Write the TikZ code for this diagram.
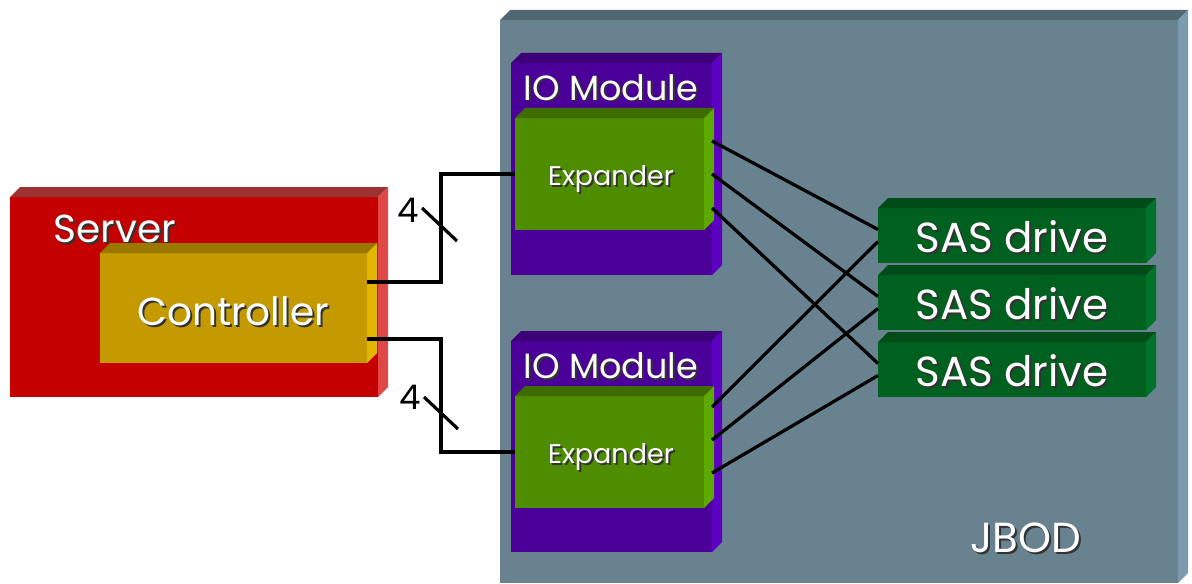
\documentclass[tikz,border=0pt]{standalone}
\usepackage{fontspec}
\setmainfont{Poppins}
\usetikzlibrary{calc}

\definecolor{srvfront}{HTML}{C40000}
\definecolor{srvtop}{HTML}{9E3232}
\definecolor{srvside}{HTML}{E04848}
\definecolor{ctlfront}{HTML}{C49A00}
\definecolor{ctltop}{HTML}{9A7800}
\definecolor{ctlside}{HTML}{E2B600}
\definecolor{jbfront}{HTML}{68828F}
\definecolor{jbtop}{HTML}{516773}
\definecolor{jbside}{HTML}{7C9BAE}
\definecolor{iofront}{HTML}{4B009A}
\definecolor{iotop}{HTML}{3D0078}
\definecolor{ioside}{HTML}{5C00C2}
\definecolor{exfront}{HTML}{4E8C00}
\definecolor{extop}{HTML}{3E6C00}
\definecolor{exside}{HTML}{5CAA00}
\definecolor{drfront}{HTML}{006020}
\definecolor{drtop}{HTML}{004C18}
\definecolor{drside}{HTML}{00722A}

% white text with a dark drop shadow
\newcommand{\shadowed}[1]{\makebox[0pt][l]{\hspace{1pt}\raisebox{-1pt}{\textcolor{black!80}{#1}}}#1}

% top and side faces of a block
\newcommand{\blockfaces}[3]{%
 \fill[#2] (#1.north west) -- ++(10,-10) -- ($(#1.north east)+(10,-10)$) -- (#1.north east) -- cycle;
 \fill[#3] (#1.north east) -- ++(10,-10) -- ($(#1.south east)+(10,-10)$) -- (#1.south east) -- cycle;}

\begin{document}
\begin{tikzpicture}[x=0.5pt,y=-0.5pt]
 \tikzset{block/.style={anchor=north west,inner sep=0,outer sep=0,draw=none},
  lbl/.style={anchor=base,text=white,inner sep=0},
  wire/.style={line width=1.6pt,black}}
\useasboundingbox (0,0) rectangle (1192,583);
% JBOD enclosure
\node[block,fill=jbfront,minimum width=339pt,minimum height=281.5pt] (jbod) at (500,20) {};
\blockfaces{jbod}{jbtop}{jbside}
\node[lbl,font=\fontsize{21}{24}\selectfont] (jbodtxt) at (1026,552) {\shadowed{JBOD}};
% IO modules and expanders
\node[block,fill=iofront,minimum width=100.5pt,minimum height=106pt] (iom1) at (511,63) {};
\blockfaces{iom1}{iotop}{ioside}
\node[block,fill=iofront,minimum width=100.5pt,minimum height=105.5pt] (iom2) at (511,341) {};
\blockfaces{iom2}{iotop}{ioside}
\node[lbl,font=\fontsize{17.5}{20}\selectfont] (iom1txt) at (611,100) {\shadowed{IO Module}};
\node[lbl,font=\fontsize{17.5}{20}\selectfont] (iom2txt) at (611,378) {\shadowed{IO Module}};
\node[block,fill=exfront,minimum width=94.5pt,minimum height=56pt] (exp1) at (515,118) {};
\blockfaces{exp1}{extop}{exside}
\node[block,fill=exfront,minimum width=94.5pt,minimum height=56pt] (exp2) at (515,396) {};
\blockfaces{exp2}{extop}{exside}
\node[lbl,font=\fontsize{13.5}{16}\selectfont] (exp1txt) at (611,185) {\shadowed{Expander}};
\node[lbl,font=\fontsize{13.5}{16}\selectfont] (exp2txt) at (611,463) {\shadowed{Expander}};
% drives
\foreach \i/\y in {1/208,2/275,3/342}{
 \node[block,fill=drfront,minimum width=134pt,minimum height=27.5pt] (drv\i) at (878,\y) {};
 \blockfaces{drv\i}{drtop}{drside}
 \node[lbl,font=\fontsize{21}{24}\selectfont] (drv\i txt) at ($(drv\i.south)+(0,-11)$) {\shadowed{SAS drive}};
}
% server and controller
\node[block,fill=srvfront,minimum width=184pt,minimum height=100pt] (srv) at (10,197) {};
\blockfaces{srv}{srvtop}{srvside}
\node[lbl,font=\fontsize{19.5}{22}\selectfont] (srvtxt) at (115,242) {\shadowed{Server}};
\node[block,fill=ctlfront,minimum width=133.5pt,minimum height=55pt] (ctrl) at (100,253) {};
\blockfaces{ctrl}{ctltop}{ctlside}
\node[lbl,font=\fontsize{19.5}{22}\selectfont] (ctrltxt) at (233,325) {\shadowed{Controller}};
% controller to expanders
\coordinate (cup) at ($(ctrl.east)+(0,-26)$);
\coordinate (clo) at ($(ctrl.east)+(0,31)$);
\draw[wire] (cup) -- ++(74,0) |- (exp1.west);
\draw[wire] (clo) -- ++(74,0) |- (exp2.west);
\draw[wire] (422,208) -- (457,241);
\draw[wire] (424,397) -- (458,429);
\node[anchor=base,inner sep=0,font=\fontsize{17}{20}\selectfont] (lanes1) at (408,222) {4};
\node[anchor=base,inner sep=0,font=\fontsize{17}{20}\selectfont] (lanes2) at (410,409) {4};
% expanders to drives
\foreach \i/\dy in {1/23,2/56,3/90}
 \draw[wire] ($(exp1.north east)+(8,\dy)$) -- ($(drv\i.west)+(0,-6)$);
\foreach \i/\dy in {1/11,2/44,3/77}
 \draw[wire] ($(exp2.north east)+(8,\dy)$) -- ($(drv\i.west)+(0,6)$);
\end{tikzpicture}
\end{document}
